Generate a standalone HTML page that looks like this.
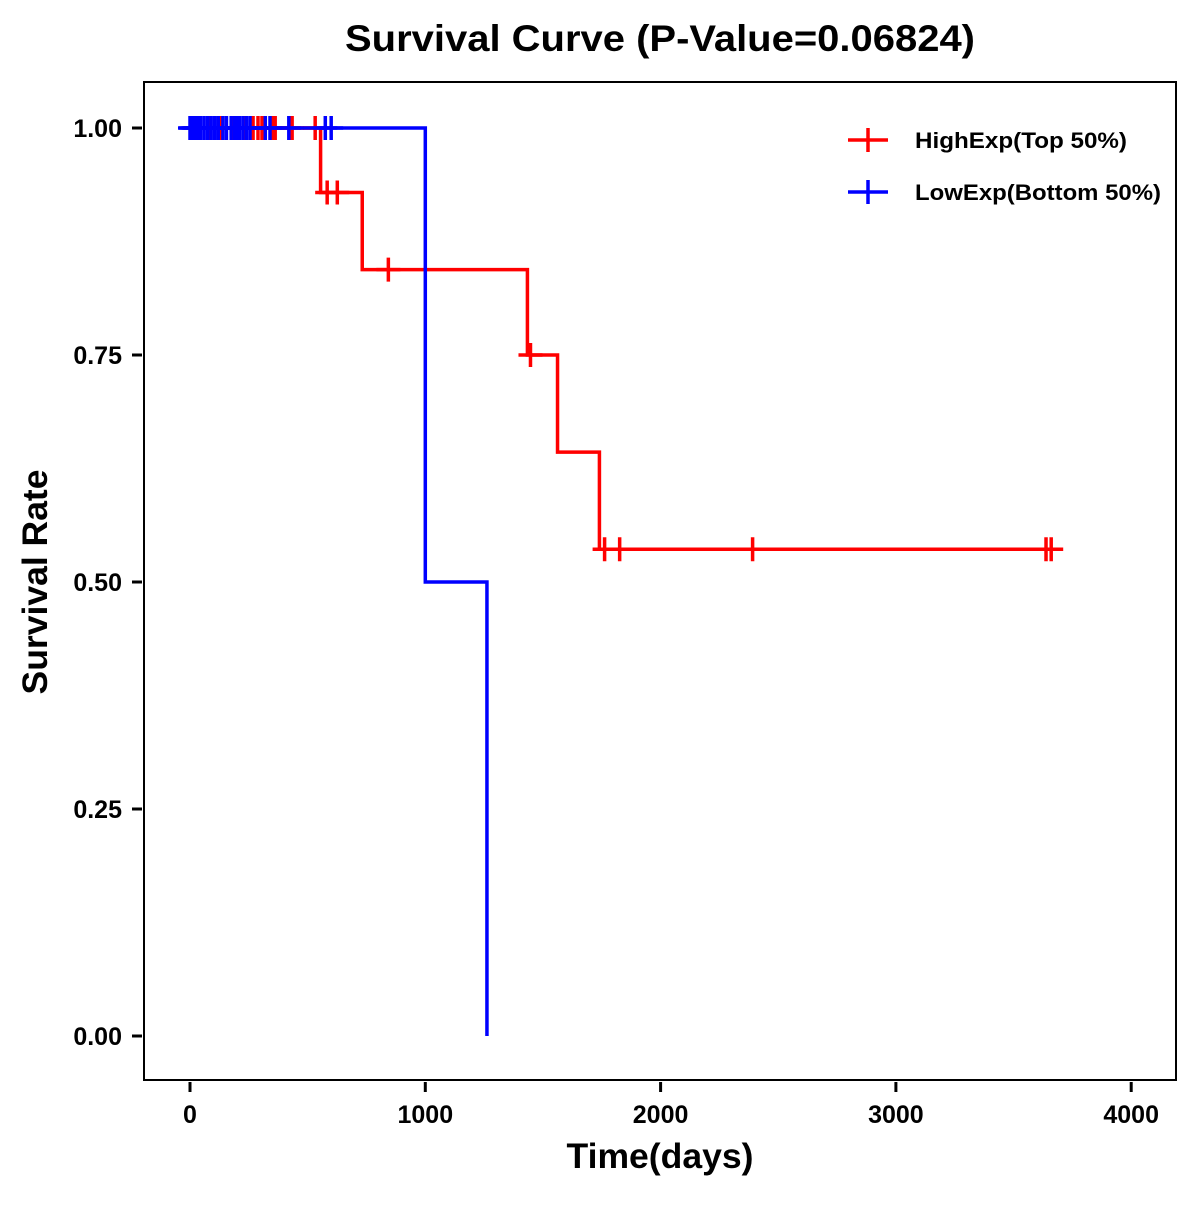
<!DOCTYPE html>
<html><head><meta charset="utf-8"><style>
body{margin:0;background:#fff}
svg text{font-family:"Liberation Sans",Arial,sans-serif;font-weight:bold;fill:#000}
</style></head><body>
<svg id="chart" width="1200" height="1200" viewBox="0 0 1200 1200" xmlns="http://www.w3.org/2000/svg">
<rect width="1200" height="1200" fill="#fff"/>
<text x="660" y="51" text-anchor="middle" font-size="37" textLength="630" lengthAdjust="spacingAndGlyphs">Survival Curve (P-Value=0.06824)</text>
<rect x="144" y="82" width="1032" height="998" fill="none" stroke="#000" stroke-width="2"/>
<g id="xaxis"></g>
<g id="yaxis"></g>
<text x="660" y="1168" text-anchor="middle" font-size="35" textLength="187" lengthAdjust="spacingAndGlyphs">Time(days)</text>
<text transform="translate(47,582) rotate(-90)" text-anchor="middle" font-size="35" textLength="225" lengthAdjust="spacingAndGlyphs">Survival Rate</text>
<g id="series"></g>
<g>
<g>
<line x1="848" y1="140" x2="888" y2="140" stroke="#f00" stroke-width="3.5"/><line x1="868" y1="128" x2="868" y2="152" stroke="#f00" stroke-width="3.5"/>
<text x="915" y="148" font-size="22" textLength="212" lengthAdjust="spacingAndGlyphs">HighExp(Top 50%)</text></g>
<g>
<line x1="848" y1="192" x2="888" y2="192" stroke="#00f" stroke-width="3.5"/><line x1="868" y1="180" x2="868" y2="204" stroke="#00f" stroke-width="3.5"/>
<text x="915" y="200" font-size="22" textLength="246" lengthAdjust="spacingAndGlyphs">LowExp(Bottom 50%)</text></g>
</g>
</svg>
<script>
const xTicks=[0,1000,2000,3000,4000];
const yTicks=[0,0.25,0.5,0.75,1];
const yTickLabels=["0.00","0.25","0.50","0.75","1.00"];
const highStepTimes=[0,555,732,1434,1562,1740];
const highStepSurv=[1,0.929,0.844,0.75,0.643,0.536];
const highEnd=3660;
const highCensorTimes=[20,80,130,180,230,268,289,306,349,362,434,532,583,626,843,1447,1762,1826,2391,3638,3660];
const lowStepTimes=[0,1000,1262];
const lowStepSurv=[1,0.5,0];
const lowEnd=1262;
const lowCensorTimes=[0,5,15,25,35,45,60,75,90,105,120,140,155,175,190,200,210,225,240,255,320,340,420,575,600];
const X=t=>190+t*0.2353, Y=s=>1036-s*908;
const NS="http://www.w3.org/2000/svg";
function mk(tag,attrs,parent){const e=document.createElementNS(NS,tag);for(const k in attrs)e.setAttribute(k,attrs[k]);parent.appendChild(e);return e;}
const xa=document.getElementById('xaxis'), ya=document.getElementById('yaxis');
xTicks.forEach(t=>{
 const l=mk('line',{x1:X(t),x2:X(t),y1:1082,y2:1092,stroke:'#000','stroke-width':3},xa);
 
 
 const tx=mk('text',{x:X(t),y:1123,'text-anchor':'middle','font-size':25},xa);tx.textContent=t;
 
 
});
yTicks.forEach((v,i)=>{
 const l=mk('line',{x1:132,x2:142,y1:Y(v),y2:Y(v),stroke:'#000','stroke-width':3},ya);
 
 
 const tx=mk('text',{x:122,y:Y(v)+9,'text-anchor':'end','font-size':25},ya);tx.textContent=yTickLabels[i];
 
 
});
function survAt(times,surv,t){let s=surv[0];for(let i=0;i<times.length;i++){if(times[i]<=t)s=surv[i];}return s;}
function drawSeries(times,surv,end,cens,color,name){
 const g=mk('g',{},document.getElementById('series'));
 
 
 let d='M'+X(times[0])+','+Y(surv[0]);
 for(let i=1;i<times.length;i++){d+=' H'+X(times[i])+' V'+Y(surv[i]);}
 d+=' H'+X(end);
 const p=mk('path',{d:d,fill:'none',stroke:color,'stroke-width':3.5},g);
 
 
 cens.forEach(t=>{
  const s=survAt(times,surv,t),cx=X(t),cy=Y(s);
  const c=mk('path',{d:`M${cx-12},${cy} H${cx+12} M${cx},${cy-12} V${cy+12}`,stroke:color,'stroke-width':3.5,fill:'none'},g);
  
  
 });
}
drawSeries(highStepTimes,highStepSurv,highEnd,highCensorTimes,'#f00','high-exp');
drawSeries(lowStepTimes,lowStepSurv,lowEnd,lowCensorTimes,'#00f','low-exp');
</script>
</body></html>
